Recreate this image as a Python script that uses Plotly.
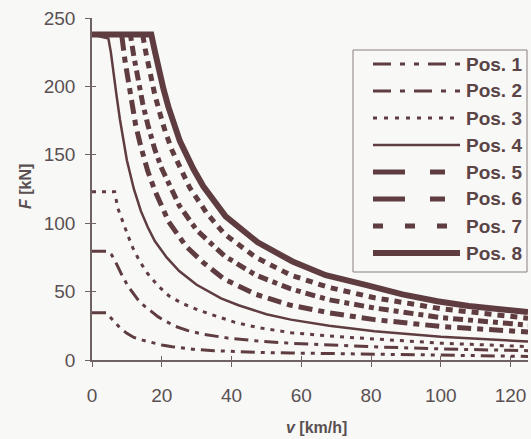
import plotly.graph_objects as go

# ---- data ----
v1 = [0, 4.2, 5, 6, 8, 10, 12, 14.5, 17, 20, 23, 26, 30, 35, 40, 48, 57, 70, 81, 100, 125]
f1 = [34.5, 34.5, 32, 29, 23.5, 19.5, 16.5, 14.5, 12.8, 11, 9.7, 8.6, 7.6, 6.8, 6.1, 5.5, 5.1, 4.8, 4.5, 3.6, 2.6]

v2 = [0, 4.6, 5.6, 6.7, 8.4, 10.3, 13.2, 15, 17, 19, 21, 24, 27.5, 32, 39, 47, 57, 68, 81, 100, 125]
f2 = [79.5, 79.5, 77, 72, 63, 54, 44, 39.5, 35.5, 31.5, 28.5, 24.5, 21.5, 18.8, 16, 14, 12.2, 10.8, 9.6, 8.1, 6.8]

v3 = [0, 6.5, 7.4, 8.9, 10.3, 11.7, 13.7, 16, 19, 22, 25.6, 30.4, 37, 41, 48, 57, 68, 81, 100, 125]
f3 = [123, 123, 111, 100, 91, 82, 72, 63, 54, 47, 41.7, 36.5, 30.6, 27.5, 23.5, 20, 17.5, 15.3, 12.3, 9.8]

v4 = [0, 4.7, 5.4, 6.1, 7, 8, 9, 10, 12, 14, 16, 18, 21.4, 25, 30, 37, 42, 50, 57, 68, 81, 100, 125]
f4 = [238, 235, 225, 213, 194, 176, 160, 146, 125, 109, 97, 87, 75, 65, 55, 45, 40, 33.5, 29.5, 25, 21, 17, 13.5]

v5 = [0, 8.5, 9.5, 11, 12.5, 14, 16, 18, 22, 27, 32, 38, 47, 57, 68, 81, 100, 125]
f5 = [238, 238, 218, 192, 172, 156, 138, 124, 101, 83, 71, 59, 48, 40, 34.5, 29.5, 24.5, 20.5]

v6 = [0, 11, 12, 13, 14.5, 16, 18, 20, 25, 30, 38, 47, 57, 68, 81, 100, 125]
f6 = [238, 238, 222, 207, 188, 172, 154, 140, 113, 95, 76, 62, 52, 44, 38, 31, 25.5]

v7 = [0, 14.5, 15.5, 16.5, 18, 19.5, 21, 23, 28, 33, 38, 47, 57, 68, 81, 100, 125]
f7 = [238, 238, 224, 211, 194, 180, 167, 153, 126, 107, 92, 75, 62, 53, 45.5, 37.5, 30.5]

v8 = [0, 17, 18, 19, 20.5, 21.9, 23.5, 25.2, 29, 31.9, 38.3, 47.5, 57.5, 67, 79, 89, 99, 108, 125]
f8 = [238, 238, 226, 214, 198, 185, 172, 160, 140, 127, 105, 86, 72, 62, 54.5, 48, 43, 39.5, 35]

names = ["Pos. 1", "Pos. 2", "Pos. 3", "Pos. 4", "Pos. 5", "Pos. 6", "Pos. 7", "Pos. 8"]
xticks = [0, 20, 40, 60, 80, 100, 120]
yticks = [0, 50, 100, 150, 200, 250]

# ---- styles ----
LC = "#5f3c40"
AX = "#6e6262"
TXT = "#5a5052"
BG = "#f8f8f7"
widths = [3, 3, 3, 2.5, 5, 5, 5, 6]
dashes = ["14px,6px,4px,6px,4px,6px", "14px,6px,4px,6px", "4px,6px", "solid",
          "14px,6px,6px,6px", "10px,5px,5px,5px", "7px,6px", "solid"]
leg_dashes = ["18px,9px,5px,9px,5px,9px", "18px,9px,5px,9px", "4px,7px", "solid",
              "32px,25px,15px,15px", "32px,25px,15px,15px", "10px,22px", "solid"]

series = [(v1, f1), (v2, f2), (v3, f3), (v4, f4), (v5, f5), (v6, f6), (v7, f7), (v8, f8)]

fig = go.Figure()
for (vx, fy), nm, w, d in zip(series, names, widths, dashes):
    fig.add_trace(go.Scatter(x=vx, y=fy, mode="lines", name=nm, showlegend=False,
                             line=dict(color=LC, width=w, dash=d, shape="linear")))
fig.add_trace(go.Scatter(x=[None], y=[None], xaxis="x2", yaxis="y2", showlegend=False))

W, H = 531, 439
L, R, T, B = 92, 3, 18, 79
PW, PH = W - L - R, H - T - B


def xp(px):
    return (px - L) / PW


def yp(py):
    return (H - B - py) / PH


shapes = [dict(type="rect", xref="paper", yref="paper", x0=xp(353), x1=xp(527), y0=yp(272), y1=yp(50),
               line=dict(color="#8a7e7e", width=1), fillcolor=BG)]
annotations = []
for i, (nm, w, d) in enumerate(zip(names, widths, leg_dashes)):
    yy = 64 + 27 * i
    shapes.append(dict(type="line", xref="paper", yref="paper", x0=xp(373), x1=xp(460),
                       y0=yp(yy), y1=yp(yy), line=dict(color=LC, width=w, dash=d)))
    annotations.append(dict(xref="paper", yref="paper", x=xp(524), y=yp(yy), text="<b>%s</b>" % nm,
                            showarrow=False, xanchor="right", yanchor="middle",
                            font=dict(family="Liberation Sans, Arial", size=19, color="#5a4446")))

annotations.append(dict(xref="paper", yref="paper", x=xp(26), y=yp(187), text="<b><i>F</i> [kN]</b>",
                        textangle=-90, showarrow=False, xanchor="center", yanchor="middle",
                        font=dict(family="Liberation Sans, Arial", size=16, color=TXT)))
annotations.append(dict(xref="paper", yref="paper", x=xp(316), y=yp(428), text="<b><i>v</i> [km/h]</b>",
                        showarrow=False, xanchor="center", yanchor="middle",
                        font=dict(family="Liberation Sans, Arial", size=16, color=TXT)))

axfont = dict(family="Liberation Sans, Arial", size=19, color=TXT)
fig.update_layout(
    width=W, height=H, margin=dict(l=L, r=R, t=T, b=B),
    paper_bgcolor=BG, plot_bgcolor=BG,
    shapes=shapes, annotations=annotations,
    xaxis=dict(range=[0, 125], tickvals=xticks, ticks="outside", ticklen=5, tickcolor=AX,
               showline=True, linecolor=AX, linewidth=1.5, showgrid=False, zeroline=False,
               tickfont=axfont, ticklabelstandoff=12),
    yaxis=dict(range=[0, 250], tickvals=yticks, ticks="outside", ticklen=5, tickcolor=AX,
               showline=True, linecolor=AX, linewidth=1.5, showgrid=False, zeroline=False,
               tickfont=axfont, ticklabelstandoff=6),
    xaxis2=dict(range=[0, 125], tickvals=xticks, overlaying="x", anchor="y", side="bottom",
                ticks="inside", ticklen=4, tickcolor=AX, showticklabels=False, showline=False,
                showgrid=False, zeroline=False),
    yaxis2=dict(range=[0, 250], tickvals=yticks, overlaying="y", anchor="x", side="left",
                ticks="inside", ticklen=4, tickcolor=AX, showticklabels=False, showline=False,
                showgrid=False, zeroline=False),
)
fig.write_html("out.html")
